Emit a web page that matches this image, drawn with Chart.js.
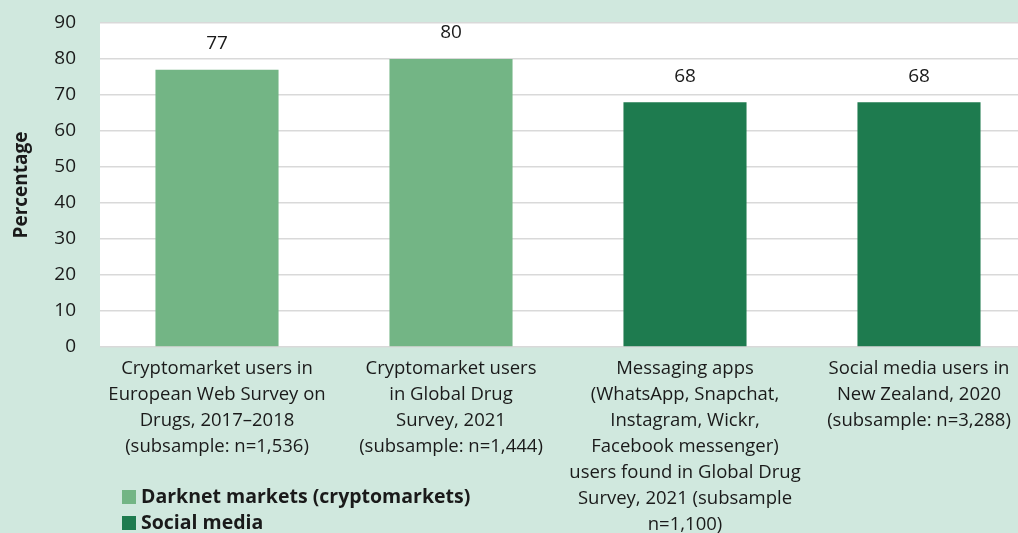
<!DOCTYPE html>
<html>
<head>
<meta charset="utf-8">
<script src="https://cdn.jsdelivr.net/npm/chart.js@4"></script>
<style>
  html, body { margin: 0; padding: 0; background: #D0E8DE; overflow: hidden; }
  #wrap { position: relative; width: 1044px; height: 545px; }
</style>
</head>
<body>
<div id="wrap"><canvas id="chart1"></canvas></div>
<script>
//------------------------------------------- Data -------------------------------------------//
const categories = [
    ['Cryptomarket users in', 'European Web Survey on', 'Drugs, 2017\u20132018', '(subsample: n=1,536)'],
    ['Cryptomarket users', 'in Global Drug', 'Survey, 2021', '(subsample: n=1,444)'],
    ['Messaging apps', '(WhatsApp, Snapchat,', 'Instagram, Wickr,', 'Facebook messenger)', 'users found in Global Drug', 'Survey, 2021 (subsample', 'n=1,100)'],
    ['Social media users in', 'New Zealand, 2020', '(subsample: n=3,288)']
];
const darknet_values = [77, 80, null, null];
const social_values = [null, null, 68, 68];
const series_labels = ['Darknet markets (cryptomarkets)', 'Social media'];
const y_ticks = [0, 10, 20, 30, 40, 50, 60, 70, 80, 90];

// Settings
const font_family = "'Open Sans', sans-serif";
const text_color = '#1a1a1a';
const light_green = '#73B585';
const dark_green = '#1E7B4F';

//------------------------------------------- Plugins -------------------------------------------//

// white plot area
const plotBackground = {
    id: 'plotBackground',
    beforeDraw(chart) {
        const a = chart.chartArea;
        const ctx = chart.ctx;
        ctx.save();
        ctx.fillStyle = '#ffffff';
        ctx.fillRect(a.left, a.top, a.right - a.left, a.bottom - a.top);
        ctx.restore();
    }
};

// numbers above bars
const valueLabels = {
    id: 'valueLabels',
    afterDatasetsDraw(chart) {
        const ctx = chart.ctx;
        ctx.save();
        ctx.font = '19px ' + font_family;
        ctx.fillStyle = text_color;
        ctx.textAlign = 'center';
        ctx.textBaseline = 'middle';
        chart.data.datasets.forEach((ds, i) => {
            chart.getDatasetMeta(i).data.forEach((bar, j) => {
                if (ds.data[j] == null) return;
                ctx.fillText(ds.data[j], bar.x, bar.y - 26);
            });
        });
        ctx.restore();
    }
};

// vertical legend, bottom left
const sideLegend = {
    id: 'sideLegend',
    afterDraw(chart) {
        const ctx = chart.ctx;
        ctx.save();
        ctx.font = 'bold 19.5px ' + font_family;
        ctx.textBaseline = 'middle';
        chart.data.datasets.forEach((ds, i) => {
            const y = 497 + i * 26;
            ctx.fillStyle = ds.backgroundColor;
            ctx.fillRect(122, y - 7, 14, 14);
            ctx.fillStyle = text_color;
            ctx.fillText(ds.label, 141, y);
        });
        ctx.restore();
    }
};

//------------------------------------------- Chart -------------------------------------------//
var chart1 = new Chart(document.getElementById('chart1'), {
    type: 'bar',
    data: {
        labels: categories,
        datasets: [{
            label: series_labels[0],
            data: darknet_values,
            backgroundColor: light_green
        }, {
            label: series_labels[1],
            data: social_values,
            backgroundColor: dark_green
        }]
    },
    options: {
        responsive: true,
        maintainAspectRatio: false,
        animation: false,
        datasets: {
            bar: { categoryPercentage: 1, barPercentage: 0.526 }
        },
        layout: {
            padding: { top: 23, right: 8, left: 0, bottom: 0 }
        },
        plugins: {
            legend: { display: false },
            tooltip: { enabled: false }
        },
        scales: {
            x: {
                stacked: true,
                grid: { display: false },
                border: { display: false },
                ticks: {
                    color: text_color,
                    font: { family: font_family, size: 18.5, lineHeight: 1.4 },
                    padding: 1,
                    maxRotation: 0,
                    autoSkip: false
                },
                afterFit(scale) { scale.height = 545 - 347; }
            },
            y: {
                stacked: true,
                min: 0,
                max: 90,
                afterBuildTicks(scale) { scale.ticks = y_ticks.map(v => ({ value: v })); },
                grid: { color: '#D9D9D9', lineWidth: 1.5, drawTicks: false },
                border: { display: false },
                ticks: {
                    color: text_color,
                    font: { family: font_family, size: 19 },
                    padding: 24
                },
                title: {
                    display: true,
                    text: 'Percentage',
                    color: text_color,
                    font: { family: font_family, size: 19, weight: 'bold' },
                    padding: { top: 10, bottom: 14 }
                },
                afterFit(scale) {
                    scale.width = 100;
                    scale.paddingTop = 0;
                    scale.paddingBottom = 0;
                }
            }
        }
    },
    plugins: [plotBackground, valueLabels, sideLegend]
});
</script>
</body>
</html>
